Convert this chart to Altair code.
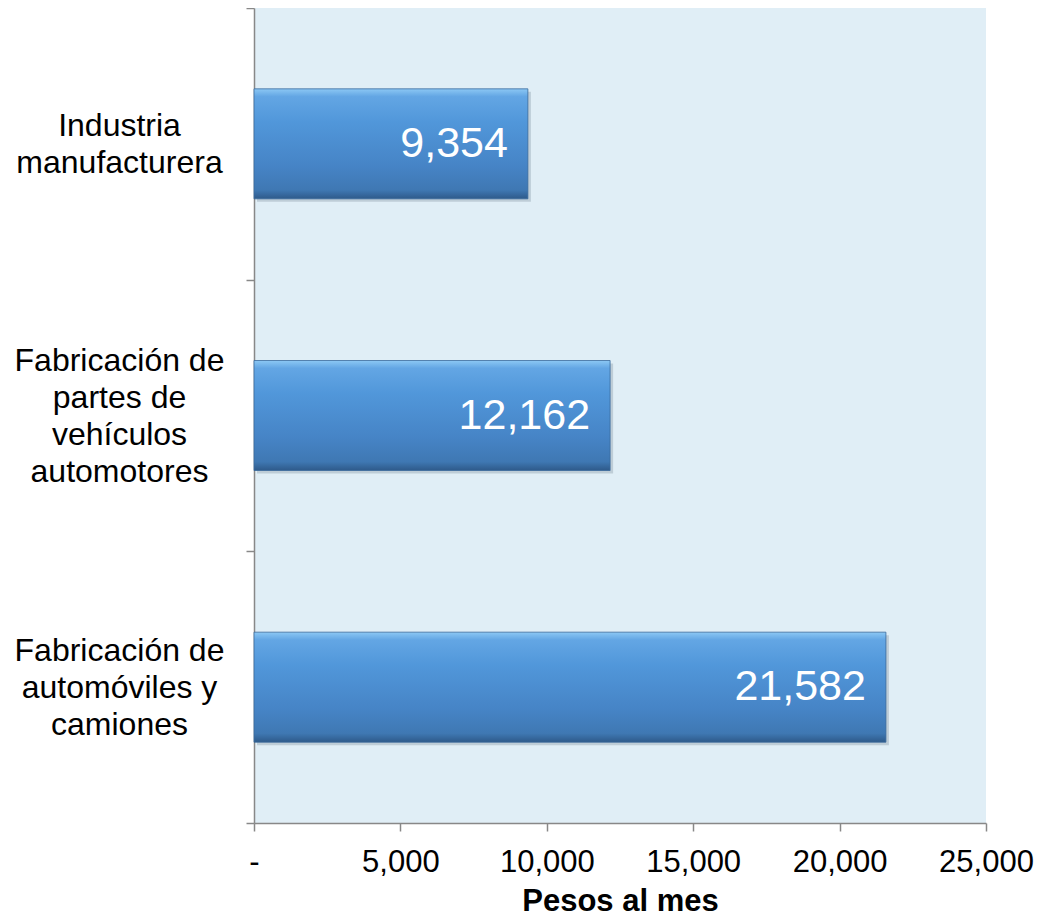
import altair as alt
import pandas as pd

categories = ["Industria|manufacturera",
              "Fabricación de|partes de|vehículos|automotores",
              "Fabricación de|automóviles y|camiones"]
values = [9354, 12162, 21582]
labels = ["9,354", "12,162", "21,582"]

df = pd.DataFrame({"cat": categories, "val": values, "lab": labels})

FONT = "Liberation Sans"
BAR_H = 110
LINE_H = 37

label_offset = {
    "condition": [
        {"test": f"datum.value == '{categories[0]}'", "value": -LINE_H * 1 / 2},
        {"test": f"datum.value == '{categories[1]}'", "value": -LINE_H * 3 / 2},
    ],
    "value": -LINE_H * 2 / 2,
}

y_enc = alt.Y("cat:N", sort=categories, title=None,
              scale=alt.Scale(paddingInner=0, paddingOuter=0),
              axis=alt.Axis(labelExpr="split(datum.label, '|')", labelAlign="center",
                            labelBaseline="middle", labelPadding=127, labelFontSize=32,
                            labelLineHeight=LINE_H, labelColor="#000000", labelFont=FONT,
                            labelOffset=label_offset,
                            tickBand="extent", tickSize=8, tickColor="#888888",
                            domainColor="#888888", domainWidth=1.5, tickWidth=1.5,
                            labelLimit=400))
x_enc = alt.X("val:Q", title="Pesos al mes",
              scale=alt.Scale(domain=[0, 25000], nice=False),
              axis=alt.Axis(values=[0, 5000, 10000, 15000, 20000, 25000],
                            labelExpr="datum.value == 0 ? '-' : format(datum.value, ',')",
                            labelFontSize=31, labelFont=FONT, labelColor="#000000",
                            labelFlush=False, labelOverlap=False,
                            labelPadding=16, tickSize=8, tickColor="#888888", tickWidth=1.5,
                            domainColor="#888888", domainWidth=1.5, grid=False,
                            titleFont=FONT, titleFontSize=31, titleFontWeight="bold",
                            titleColor="#000000", titlePadding=9))

base = alt.Chart(df)

shadow = base.mark_bar(color="#7f8f9f", opacity=0.35, xOffset=3, yOffset=3,
                       height=BAR_H).encode(y=y_enc, x=x_enc)

grad = alt.Gradient(gradient="linear", x1=0, x2=0, y1=0, y2=1, stops=[
    alt.GradientStop(color="#8cc8f4", offset=0),
    alt.GradientStop(color="#63a6e4", offset=0.07),
    alt.GradientStop(color="#5197da", offset=0.3),
    alt.GradientStop(color="#4684c6", offset=0.7),
    alt.GradientStop(color="#3f78b3", offset=0.92),
    alt.GradientStop(color="#2e5a8a", offset=1.0),
])

bars = base.mark_bar(color=grad, stroke="#3a6a9c", strokeWidth=0.8,
                     height=BAR_H).encode(y=y_enc, x=x_enc)

text = base.mark_text(align="right", baseline="middle", dx=-20, fontSize=43,
                      color="white", font=FONT).encode(
    y=alt.Y("cat:N", sort=categories), x="val:Q", text="lab:N")

chart = alt.layer(shadow, bars, text).properties(
    width=732, height=815,
    autosize=alt.AutoSizeParams(type="none"),
    padding={"left": 246, "top": 0, "right": 52, "bottom": 96},
).configure_view(fill="#e0eef6", stroke=None)

chart.save("out.html", embed_options={"renderer": "svg", "actions": False})
